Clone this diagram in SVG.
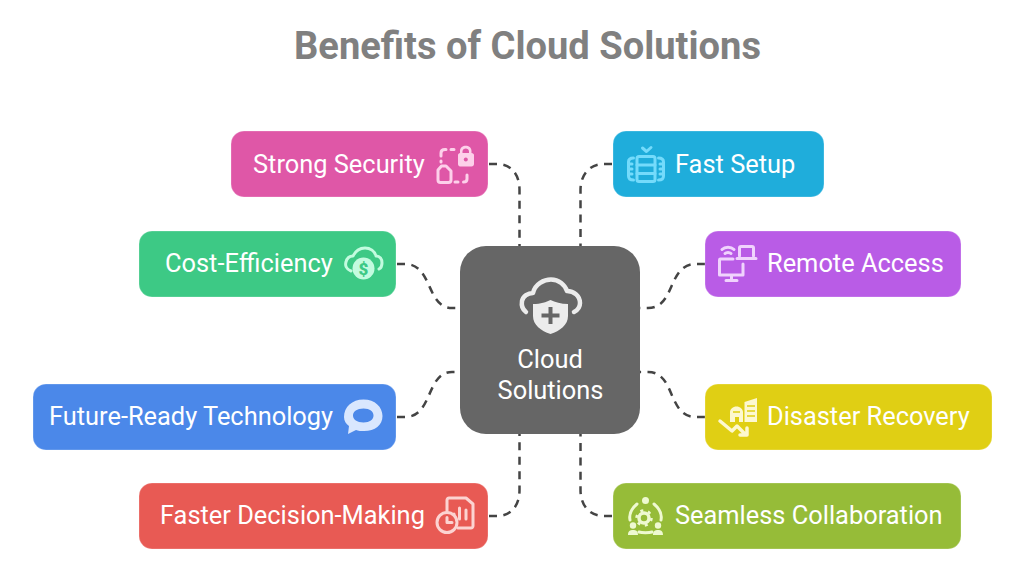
<svg xmlns="http://www.w3.org/2000/svg" width="1024" height="581" viewBox="0 0 1024 581">
<style>
text{font-family:Roboto,"Liberation Sans",sans-serif}
.t{font-size:25.400px;fill:#fff}
.c{fill:none;stroke:#444;stroke-width:2.500;stroke-dasharray:8 6.400}
.i{fill:none;stroke-width:3;stroke-linecap:round;stroke-linejoin:round}
.box{stroke:#fff;stroke-opacity:.25;stroke-width:1}
</style>
<rect width="1024" height="581" fill="#fff"/>
<text x="527.500" y="58.500" text-anchor="middle" font-size="38.100" font-weight="700" fill="#808080">Benefits of Cloud Solutions</text>
<g id="connectors">
<path class="c" d="M489,164H497C511,164 519.500,174 519.500,190V246"/>
<path class="c" d="M612,164H604C590,164 580.500,174 580.500,190V246"/>
<path class="c" d="M397,264H405C433,264 426,308 452,308H460"/>
<path class="c" d="M705,264H696C667,264 676,308 648,308H640"/>
<path class="c" d="M397,417H405C433,417 426,372 452,372H460"/>
<path class="c" d="M705,417H696C667,417 676,372 648,372H640"/>
<path class="c" d="M489,516H497C511,516 519.500,506 519.500,490V434"/>
<path class="c" d="M612,516H604C590,516 580.500,506 580.500,490V434"/>
</g>
<g id="center">
<rect x="460" y="246" width="180" height="188" rx="26" fill="#666"/>
<path class="i" stroke="#ececec" style="stroke-width:4.500" d="M526,312C522,309 521.500,304 522,301C523,296 528,293 533,293C535,284 544,279.500 551,279.500C559,279.500 565,285 567,291C574,291 580,296 580,303C580,307 578,310 574,312"/>
<path fill="#ececec" d="M533,304C541,304 546,302 550.500,300C555,302 561,304 568,304V316C568,325 560,331 550.500,334C541,331 533,325 533,316Z"/>
<path fill="none" stroke="#666" stroke-width="4" d="M550.500,307V324M541.500,315.500H559.500"/>
<text x="550" y="367.500" text-anchor="middle" font-size="25.400" fill="#fff">Cloud</text>
<text x="550.500" y="398.500" text-anchor="middle" font-size="25.400" fill="#fff">Solutions</text>
</g>
<g id="strong-security">
<rect class="box" x="231" y="131" width="257" height="66" rx="13" fill="#df57a7"/>
<text class="t" x="253" y="173">Strong Security</text>
<path class="i" stroke="#fdd0ea" d="M441,162V161M441,156V153C441,150.500 443,149.500 445,149.500H446M451,149.500H454"/>
<path class="i" stroke="#fdd0ea" d="M438,170L441.500,166H446L451,171V180C451,181.500 450,182.500 448.500,182.500H440.500C439,182.500 438,181.500 438,180Z"/>
<path class="i" stroke="#fdd0ea" d="M455,182H458M467,175V179C467,181 465.500,182 463.500,182"/>
<path fill="#fdd0ea" d="M458,155C458,154 459,153 460,153V151C460,144 471.500,144 471.500,151V153C473,153 474,154 474,155V164C474,165.500 473,166.500 471.500,166.500H460C459,166.500 458,165.500 458,164Z"/>
<path fill="#df57a7" d="M462.500,153V151.500C462.500,147.500 469,147.500 469,151.500V153Z"/>
<circle cx="465.800" cy="159.500" r="2" fill="#df57a7"/>
</g>
<g id="fast-setup">
<rect class="box" x="613" y="131" width="211" height="66" rx="13" fill="#1faddb"/>
<text class="t" x="675" y="173">Fast Setup</text>
<path class="i" stroke="#74dbfb" d="M642.500,148L646.500,151.500L651,147.500"/>
<rect class="i" stroke="#74dbfb" x="637" y="156.500" width="18" height="25" rx="2"/>
<path class="i" stroke="#74dbfb" d="M637,165H655M637,173.500H655"/>
<path class="i" stroke="#74dbfb" d="M633.500,158C630,158 628.500,159 628.500,162V176C628.500,179 630,180 633.500,180M658.500,158C662,158 663.500,159 663.500,162V176C663.500,179 662,180 658.500,180M629,164H632M629,169H632M629,174H632M663,164H660M663,169H660M663,174H660"/>
</g>
<g id="cost-efficiency">
<rect class="box" x="139" y="231" width="257" height="66" rx="13" fill="#3dc985"/>
<text class="t" x="165" y="272">Cost-Efficiency</text>
<path class="i" stroke="#c3fbdf" d="M351,271C346,269 345,265 346,262C347,258 350,256 353,256C356,250 361,248 365,248C370,248 375,251 376,256C380,256 382,259 382,263C382,266 381,268 379,269"/>
<circle cx="363.500" cy="268.500" r="11" fill="#c3fbdf"/>
<text x="363.500" y="275" text-anchor="middle" font-size="17" font-weight="900" fill="#3dc985">$</text>
</g>
<g id="remote-access">
<rect class="box" x="705" y="231" width="256" height="66" rx="13" fill="#b95ce6"/>
<text class="t" x="767" y="272">Remote Access</text>
<path class="i" stroke="#f0d3fd" d="M722,249.500C725,246.500 731,246.500 734,249.500M725,253.500C726.500,252 729.500,252 731,253.500"/>
<path class="i" stroke="#f0d3fd" d="M733,259H720C719.500,259 719.500,259 719.500,260V275H743V264M731.500,275V280.500M726,280.500H737"/>
<path class="i" stroke="#f0d3fd" d="M739.500,256V248C739.500,247 740,246.500 741,246.500H752C753,246.500 753.500,247 753.500,248V256M737,258.500H756"/>
</g>
<g id="future-ready-technology">
<rect class="box" x="33" y="384" width="363" height="66" rx="13" fill="#4b88e9"/>
<text class="t" x="49" y="425">Future-Ready Technology</text>
<path fill="#d9e7fe" fill-rule="evenodd" d="M344,417C344,407 352,399.500 363.500,399.500C375,399.500 382.500,407 382.500,416C382.500,425 375,431 364,431C361,431 358,431 356,430L348,434L349,426C346,424 344,421 344,417ZM353,415.500C353,419.500 357,422.500 363.500,422.500C370,422.500 373.500,419.500 373.500,415.500C373.500,411.500 370,408.500 363.500,408.500C357,408.500 353,411.500 353,415.500Z"/>
</g>
<g id="disaster-recovery">
<rect class="box" x="705" y="384" width="287" height="66" rx="13" fill="#e0cf14"/>
<text class="t" x="767" y="425">Disaster Recovery</text>
<path fill="#fdf8cf" d="M730,422V412C730,409 733,406.500 736.500,406.500C740,406.500 743,409 743,412V422H739V417H735V422Z"/>
<path fill="#fdf8cf" d="M744.500,402L757,398V422H744.500Z"/>
<path fill="none" stroke="#e0cf14" stroke-width="1.500" d="M747,406H755M747,411H755M747,416H755M733,412H740"/>
<path class="i" stroke="#fdf8cf" style="stroke-width:3.500" d="M720,421L732,431L737,426L746,435M747,428V435H740"/>
</g>
<g id="faster-decision-making">
<rect class="box" x="139" y="483" width="349" height="66" rx="13" fill="#e85a54"/>
<text class="t" x="160" y="524">Faster Decision-Making</text>
<path class="i" stroke="#fcd3d1" d="M447,511V500C447,499 448,498 449,498H466L473,504V526C473,527 472,528 471,528H458"/>
<path class="i" stroke="#fcd3d1" d="M454,518V514M459.500,519V508M466,519V510"/>
<circle class="i" stroke="#fcd3d1" cx="447" cy="522.500" r="10" style="fill:#e85a54"/>
<path class="i" stroke="#fcd3d1" d="M447,517.500V522.500H452"/>
</g>
<g id="seamless-collaboration">
<rect class="box" x="613" y="483" width="348" height="66" rx="13" fill="#96bc38"/>
<text class="t" x="675" y="524">Seamless Collaboration</text>
<circle cx="645.500" cy="500.500" r="3.500" fill="#eef9d0"/>
<path class="i" stroke="#eef9d0" d="M637,504C631,509 629,515 630,520M654,504C660,509 662,515 661,520M639,532C642,533 649,533 652,532"/>
<circle cx="644" cy="518" r="5" fill="none" stroke="#eef9d0" stroke-width="3.500"/>
<circle cx="644" cy="518" r="7.500" fill="none" stroke="#eef9d0" stroke-width="2.500" stroke-dasharray="3 4.850"/>
<circle cx="633" cy="525.500" r="3.200" fill="#eef9d0"/>
<circle cx="658" cy="525.500" r="3.200" fill="#eef9d0"/>
<path fill="#eef9d0" d="M628,535C628,531 630,530 633,530C636,530 638,531 638,535ZM653,535C653,531 655,530 658,530C661,530 663,531 663,535Z"/>
</g>
</svg>
